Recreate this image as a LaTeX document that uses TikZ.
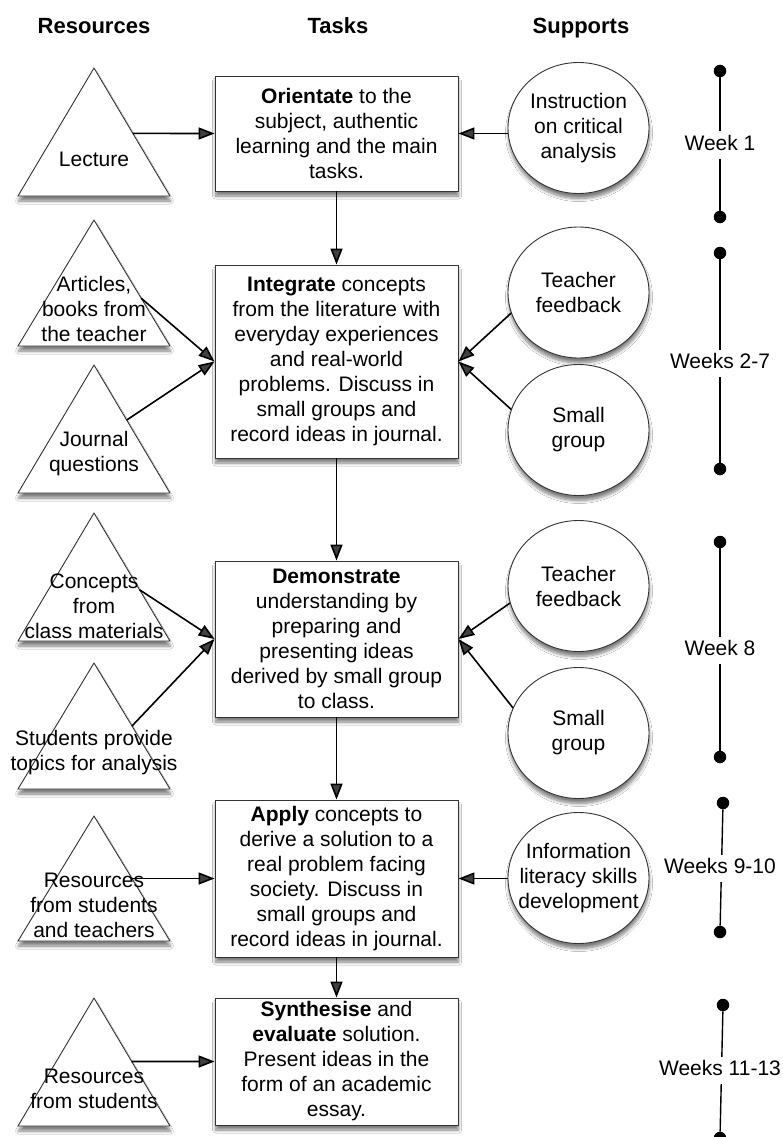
\documentclass[tikz,border=0pt]{standalone}
\usepackage{fontspec}
\setmainfont{Liberation Sans}
\usetikzlibrary{arrows.meta,calc,shapes.geometric,shadows.blur}

\tikzset{
  txt/.style={font=\fontsize{21}{25}\selectfont, align=center, inner sep=0pt},
  hdr/.style={font=\fontsize{22}{26}\selectfont\bfseries, inner sep=0pt, anchor=base},
  shad/.style={blur shadow={shadow xshift=0.5pt, shadow yshift=-5pt, shadow blur radius=3pt, shadow blur steps=8, shadow opacity=50}},
  outline/.style={draw=black!80, line width=0.9pt, fill=white, line join=round},
  taskbox/.style={txt, outline, minimum width=243pt, shad},
  support/.style={ellipse, outline, inner sep=0pt, minimum width=141pt, minimum height=131pt, shad},
  tri/.style={outline, shad},
  arr/.style={-{Triangle[length=16pt,width=12pt]}, line width=1.6pt},
  dot/.style={circle, fill=black, minimum size=12.5pt, inner sep=0pt},
  tl/.style={line width=1.4pt},
  week/.style={txt, fill=white, inner xsep=2pt, inner ysep=4pt, text height=15pt, text depth=4pt},
}

\begin{document}
\begin{tikzpicture}[x=1pt,y=-1pt]
\fill[white] (0,0) rectangle (783,1137);
\useasboundingbox (0,0) rectangle (783,1137);

% headers
\node[hdr] (hres) at (94,34) {Resources};
\node[hdr] (htask) at (338,34) {Tasks};
\node[hdr] (hsup) at (581,34) {Supports};

% triangles (resources)
\coordinate (t1a) at (94,68);   \coordinate (t1r) at (170,196);  \coordinate (t1l) at (18,196);
\coordinate (t2a) at (94,220);  \coordinate (t2r) at (170,346);  \coordinate (t2l) at (18,346);
\coordinate (t3a) at (94,365);  \coordinate (t3r) at (170,493);  \coordinate (t3l) at (18,493);
\coordinate (t4a) at (94,513);  \coordinate (t4r) at (170,641);  \coordinate (t4l) at (18,641);
\coordinate (t5a) at (94,663);  \coordinate (t5r) at (170,789);  \coordinate (t5l) at (18,789);
\coordinate (t6a) at (94,816);  \coordinate (t6r) at (170,941);  \coordinate (t6l) at (18,941);
\coordinate (t7a) at (94,998);  \coordinate (t7r) at (170,1126); \coordinate (t7l) at (18,1126);
\foreach \i in {1,...,7}{
  \filldraw[tri] (t\i a) -- (t\i r) -- (t\i l) -- cycle;
}
\node[txt] (t1t) at (94,159) {Lecture};
\node[txt] (t2t) at (94,309) {Articles,\\books from\\the teacher};
\node[txt] (t3t) at (94,454) {Journal\\questions};
\node[txt] (t4t) at (94,606) {Concepts\\from\\class materials};
\node[txt] (t5t) at (94,753) {Students provide\\topics for analysis};
\node[txt] (t6t) at (94,905) {Resources\\from students\\and teachers};
\node[txt] (t7t) at (94,1089) {Resources\\from students};

% task boxes
\node[taskbox, minimum height=115pt] (b1) at (336.5,133.5) {\textbf{Orientate} to the\\subject, authentic\\learning and the main\\tasks.};
\node[taskbox, minimum height=193pt] (b2) at (336.5,361.5) {\textbf{Integrate} concepts\\from the literature with\\everyday experiences\\and real-world\\problems. Discuss in\\small groups and\\record ideas in journal.};
\node[taskbox, minimum height=156pt] (b3) at (336.5,639) {\textbf{Demonstrate}\\understanding by\\preparing and\\presenting ideas\\derived by small group\\to class.};
\node[taskbox, minimum height=157pt] (b4) at (336.5,878.5) {\textbf{Apply} concepts to\\derive a solution to a\\real problem facing\\society. Discuss in\\small groups and\\record ideas in journal.};
\node[taskbox, minimum height=127pt] (b5) at (336.5,1061.5) {\textbf{Synthesise} and\\\textbf{evaluate} solution.\\Present ideas in the\\form of an academic\\essay.};

% supports
\node[support] (c1) at (578.5,128) {};
\node[support] (c2) at (578.5,292.5) {};
\node[support] (c3) at (578.5,430) {};
\node[support] (c4) at (578.5,586) {};
\node[support] (c5) at (578.5,733) {};
\node[support] (c6) at (578.5,878) {};
\node[txt] (c1t) at (c1) {Instruction\\on critical\\analysis};
\node[txt] (c2t) at (c2) {Teacher\\feedback};
\node[txt] (c3t) at (c3) {Small\\group};
\node[txt] (c4t) at (c4) {Teacher\\feedback};
\node[txt] (c5t) at (c5) {Small\\group};
\node[txt] (c6t) at (c6) {Information\\literacy skills\\development};

% edge points on triangles
\coordinate (t1o) at ($(t1a)!0.511!(t1r)$);
\coordinate (t2o) at ($(t2a)!0.62!(t2r)$);
\coordinate (t3o) at ($(t3a)!0.43!(t3r)$);
\coordinate (t4o) at ($(t4a)!0.60!(t4r)$);
\coordinate (t5o) at ($(t5a)!0.50!(t5r)$);
\coordinate (t6o) at ($(t6a)!0.50!(t6r)$);
\coordinate (t7o) at ($(t7a)!0.496!(t7r)$);

% arrows: resources -> tasks
\draw[arr] (t1o) -- (b1.west);
\draw[arr] (t2o) -- (b2.west);
\draw[arr] (t3o) -- (b2.west);
\draw[arr] (t4o) -- (b3.west);
\draw[arr] (t5o) -- (b3.west);
\draw[arr] (t6o) -- (b4.west);
\draw[arr] (t7o) -- (b5.west);

% arrows: supports -> tasks
\draw[arr] (b1.east -| c1.west) -- (b1.east);
\draw[arr] (c2.197) -- (b2.east);
\draw[arr] (c3.163) -- (b2.east);
\draw[arr] (c4.194) -- (b3.east);
\draw[arr] (c5.159) -- (b3.east);
\draw[arr] (b4.east -| c6.west) -- (b4.east);

% arrows: tasks chain
\draw[arr] (b1.south) -- (b2.north);
\draw[arr] (b2.south) -- (b3.north);
\draw[arr] (b3.south) -- (b4.north);
\draw[arr] (b4.south) -- (b5.north);

% timelines
\node[dot] (d1a) at (720,71) {};   \node[dot] (d1b) at (720,217) {};
\node[dot] (d2a) at (720,253) {};  \node[dot] (d2b) at (720,469) {};
\node[dot] (d3a) at (720,542) {};  \node[dot] (d3b) at (720,757) {};
\node[dot] (d4a) at (723,803) {};  \node[dot] (d4b) at (720,932) {};
\node[dot] (d5a) at (723,1005) {}; \node[dot] (d5b) at (720,1138) {};
\draw[tl] (d1a) -- (d1b);
\draw[tl] (d2a) -- (d2b);
\draw[tl] (d3a) -- (d3b);
\draw[tl] (d4a) -- (d4b);
\draw[tl] (d5a) -- (d5b);
\node[week] (w1) at (720,145) {Week 1};
\node[week] (w2) at (720,363) {Weeks 2-7};
\node[week] (w3) at (720,650) {Week 8};
\node[week] (w4) at (720,868) {Weeks 9-10};
\node[week] (w5) at (720,1070) {Weeks 11-13};
\end{tikzpicture}
\end{document}
